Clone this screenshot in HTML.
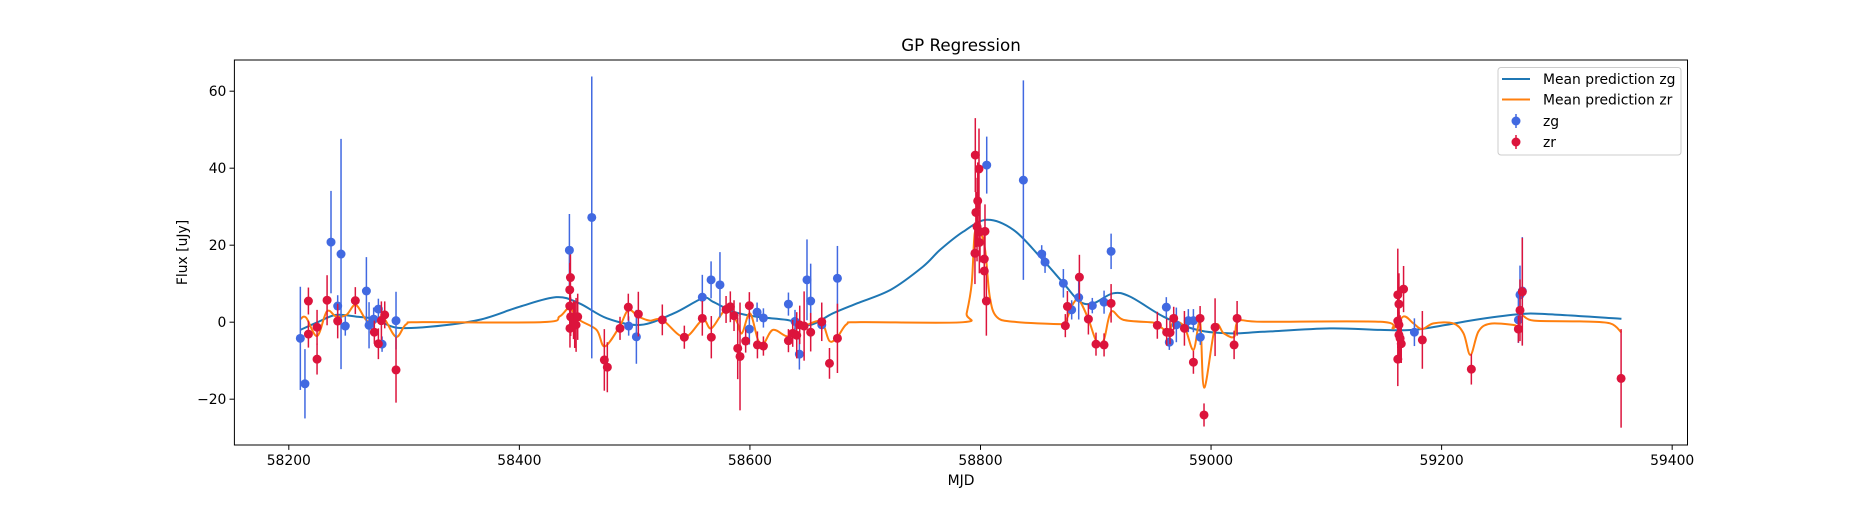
<!DOCTYPE html>
<html><head><meta charset="utf-8"><style>
body{margin:0;background:#fff;}
svg text{font-family:"DejaVu Sans","Liberation Sans",sans-serif;fill:#000;}
</style></head><body>
<svg id="chart" width="1875" height="500" xmlns="http://www.w3.org/2000/svg">
<rect width="1875" height="500" fill="#fff"/>
<text x="961" y="51" font-size="16.7" text-anchor="middle">GP Regression</text>
<g id="plot"></g>
<g id="xaxis"></g>
<g id="yaxis"></g>
<text x="961" y="485" font-size="13.9" text-anchor="middle">MJD</text>
<text transform="translate(187,252.5) rotate(-90)" font-size="13.9" text-anchor="middle">Flux [uJy]</text>
<rect x="234.4" y="60" width="1453.1" height="385" fill="none" stroke="#000" stroke-width="1"/>
<g>
<rect x="1498" y="67.5" width="183" height="87.5" rx="3" fill="#fff" fill-opacity="0.8" stroke="#ccc"/>
<line x1="1502" y1="79" x2="1530" y2="79" stroke="#1f77b4" stroke-width="2"/>
<text x="1543" y="84" font-size="13.9">Mean prediction zg</text>
<line x1="1502" y1="99.5" x2="1530" y2="99.5" stroke="#ff7f0e" stroke-width="2"/>
<text x="1543" y="104.5" font-size="13.9">Mean prediction zr</text>
<line x1="1516" y1="114" x2="1516" y2="128" stroke="#4169e1" stroke-width="1.5"/>
<circle cx="1516" cy="121" r="4.5" fill="#4169e1"/>
<text x="1543" y="126" font-size="13.9">zg</text>
<line x1="1516" y1="135" x2="1516" y2="149" stroke="#dc143c" stroke-width="1.5"/>
<circle cx="1516" cy="142" r="4.5" fill="#dc143c"/>
<text x="1543" y="147" font-size="13.9">zr</text>
</g>
</svg>
<script>
const xTicks=[58200,58400,58600,58800,59000,59200,59400];
const yTicks=[-20,0,20,40,60];
const zgMjd=[58210,58214,58236.6,58242.4,58245.3,58249,58267.3,58269.6,58273.6,58277.7,58280.9,58293,58443.4,58462.8,58494.8,58501.5,58558.7,58566.3,58574,58599.5,58606.2,58611.7,58633.4,58639.1,58642.9,58649.5,58652.7,58662.3,58675.9,58805.4,58837.2,58853.1,58856,58871.9,58879.1,58885.2,58897,58907.2,58913.3,58961.2,58963.8,58969.9,58980.3,58984.7,58990.7,59176.4,59266.6,59268,59270];
const zgFlux=[-4.2,-16,20.8,4.2,17.7,-1,8.1,-0.8,0.8,3.4,-5.7,0.4,18.7,27.2,-1,-3.8,6.5,11,9.7,-1.8,2.6,1.1,4.7,0.2,-8.3,11,5.5,-0.7,11.4,40.8,36.9,17.7,15.6,10.1,3.2,6.4,4.3,5.2,18.4,3.9,-5.2,-0.7,0.4,0.4,-3.9,-2.6,0.6,7.1,8.1];
const zgErr=[13.4,9,13.3,2.8,29.9,2.5,8.8,6,3,2.7,2,7.5,9.4,36.6,2.5,7,5.8,4.8,8.5,4,2.5,2.5,3,3,4,10.5,9.7,2.5,8.4,7.4,25.9,2.3,2.8,3.7,2.5,5.7,2,3,4.6,2.6,2,4.5,3,3,2,3.6,6,7.6,14];
const zrMjd=[58217,58217,58224.5,58224.5,58233.2,58242.4,58257.7,58274.2,58277.7,58280.3,58283.2,58293,58444.3,58443.7,58443.7,58444.5,58443.9,58447,58449.2,58450.6,58448,58473.7,58476.3,58487.3,58494.5,58503.2,58524,58543.1,58558.7,58566.5,58579.3,58583,58586.2,58589.4,58591.4,58596.3,58599.5,58606.5,58611.7,58633.4,58637.1,58640.6,58643.2,58647,58652.7,58662.3,58669,58675.9,58795.5,58798.7,58797.6,58796,58797,58799.6,58803.9,58799,58795.2,58803.3,58803.3,58805.1,58873.6,58875.4,58885.8,58893.6,58900.2,58907.2,58913.3,58953.4,58961.5,58964.4,58967.6,58976.9,58984.7,58990.5,58993.9,59003.5,59020,59022.6,59162,59167,59163,59162,59163,59163,59164,59165,59162,59183.3,59225.8,59266.6,59268,59270,59355.7];
const zrFlux=[5.5,-3.1,-1.3,-9.6,5.7,0.3,5.6,-2.6,-5.6,0.4,1.9,-12.4,11.6,8.4,4.2,1.4,-1.6,0.6,-0.7,1.4,-0.7,-9.8,-11.7,-1.6,3.9,2.1,0.6,-3.9,1,-3.9,3.3,4,1.7,-6.8,-8.9,-4.9,4.3,-5.9,-6.2,-4.8,-2.9,-3.4,-0.7,-1,-2.6,0.1,-10.7,-4.2,43.4,39.8,31.5,28.5,24.8,23.5,23.6,20.7,17.9,16.4,13.3,5.5,-0.9,4.1,11.7,0.8,-5.7,-5.9,4.9,-0.8,-2.6,-2.7,1,-1.6,-10.4,1,-24.1,-1.3,-5.9,1,7.1,8.6,4.7,0.3,-0.7,-3.3,-4.2,-5.6,-9.6,-4.6,-12.2,-1.8,3.1,7.9,-14.6];
const zrErr=[3.5,3.5,4.5,4,6.5,4.5,3.5,3,4,5,3.5,8.5,6,7,6,5,5,5,7,6,6,8,6.5,3,3.5,5.8,4,3,4.5,5.5,3.5,4,4,8,14,3,3.5,3.5,2.5,3,3.5,6,5,9,5,5,4,9,9.6,10.5,10,9,9,8,7,8,8,8,7,9,3,4,5.8,4,3,3,5,3.5,3.5,3,3,4.5,3,3.2,3,7.5,3.7,4.5,12,6,8,7,7,6,6,5,7,7.5,4,3.5,8,14,12.8];
const zgCurveMjd=[58210,58225,58241,58260,58275,58293,58322,58365,58400,58432,58452,58476,58505,58534,58559,58568,58586,58606,58632,58652,58672,58693,58722,58750,58765,58785,58805.4,58828.5,58851.6,58872,58886,58898,58915,58930,58959,58988,59017,59045,59103,59147,59175.5,59204,59233,59268,59291,59356];
const zgCurveVal=[-2,0,1.9,1.4,0.8,-1.4,-1.2,0.6,4,6.5,4.9,1,-0.7,2.3,6.2,5.3,2.7,1.4,0.6,-0.7,2.3,4.9,8.4,14.4,18.8,23.5,26.6,24,17,10.1,5.4,4.9,7.5,6.6,1.4,-2,-2.9,-2.5,-1.6,-2,-2,-0.7,0.8,2.1,2.1,0.9];
const zrCurveMjd=[58210,58215,58224.5,58233,58241,58250,58258,58267,58274,58281.5,58293,58302,58316,58420,58435,58443.4,58452,58467,58474,58487,58494.5,58503,58513,58524,58543,58559,58566.5,58579,58588.5,58593,58600,58607,58612,58620,58633,58641,58649,58662,58669,58676,58684,58696,58785,58788,58792.4,58795,58799,58804,58808,58814,58829,58869,58873.6,58880.6,58885.8,58893.6,58900.8,58907,58913.3,58924,58950,58953.4,58963,58967.6,58976.9,58984.7,58990.5,58994,59003.5,59011,59020,59024,59045,59147,59158,59167,59175.5,59183,59193,59210,59219,59225,59232,59242,59262,59266.6,59270,59280,59320,59346,59356];
const zrCurveVal=[0.8,1.2,-3.6,2.8,1.5,1.9,4.5,0.6,-0.3,1.4,-3.8,-0.5,0,0,1.5,3.6,0.6,-2,-6.3,-1.1,3.2,1.5,0.4,0.6,-3.9,0.6,-1.6,3.2,0.2,-2.9,2.3,-4.6,-5.5,-2,-3.7,-1.1,-0.7,0.1,-4.9,-3.8,-0.5,0,0,2.3,10.1,23.1,24,18.8,6.7,1.4,0.1,-0.5,0.1,4.9,5.6,0.8,-5.1,-4.6,2.7,0.6,-0.1,-0.5,-2.5,0.1,-1.2,-7.2,0.1,-17,-1.3,-2.9,-3.8,0.3,0.1,0.1,-1.6,1.5,-0.3,-1.8,-0.3,-0.3,-2.9,-8.5,-2.4,-0.4,-0.7,-1.1,1.6,0.4,0.2,-0.3,-2.7];

const X0=234.4,X1=1687.5,Y0=60,Y1=445;
const xMin=58152.8,xMax=59413.3,yMin=-31.9,yMax=68.1;
function sx(v){return X0+(v-xMin)/(xMax-xMin)*(X1-X0);}
function sy(v){return Y1-(v-yMin)/(yMax-yMin)*(Y1-Y0);}
const NS='http://www.w3.org/2000/svg';
function mk(tag,parent,attrs){const e=document.createElementNS(NS,tag);for(const k in attrs)e.setAttribute(k,attrs[k]);parent.appendChild(e);return e;}
const plot=document.getElementById('plot'),xa=document.getElementById('xaxis'),ya=document.getElementById('yaxis');
xTicks.forEach(t=>{const x=sx(t);
 const l=mk('line',xa,{x1:x,x2:x,y1:Y1,y2:Y1+4.9,stroke:'#000','stroke-width':1});
 
 
 const tx=mk('text',xa,{x:x,y:Y1+20,'font-size':13.9,'text-anchor':'middle'});tx.textContent=t;
 
 });
yTicks.forEach(t=>{const y=sy(t);
 const l=mk('line',ya,{x1:X0-4.9,x2:X0,y1:y,y2:y,stroke:'#000','stroke-width':1});
 
 
 const tx=mk('text',ya,{x:X0-8,y:y+5,'font-size':13.9,'text-anchor':'end'});tx.textContent=(t<0?'\u2212'+(-t):t);
 
 });
function curve(xs,ys){const p=xs.map((x,i)=>[sx(x),sy(ys[i])]);let d='M'+p[0][0]+','+p[0][1];
 for(let i=0;i<p.length-1;i++){const a=p[Math.max(0,i-1)],b=p[i],c=p[i+1],e=p[Math.min(p.length-1,i+2)];
  const c1=[b[0]+(c[0]-a[0])/6,b[1]+(c[1]-a[1])/6],c2=[c[0]-(e[0]-b[0])/6,c[1]-(e[1]-b[1])/6];
  d+=' C'+c1[0]+','+c1[1]+' '+c2[0]+','+c2[1]+' '+c[0]+','+c[1];}
 return d;}
const lg=mk('path',plot,{d:curve(zgCurveMjd,zgCurveVal),fill:'none',stroke:'#1f77b4','stroke-width':2});


const lr=mk('path',plot,{d:curve(zrCurveMjd,zrCurveVal),fill:'none',stroke:'#ff7f0e','stroke-width':2});


function pts(xs,ys,es,col,name){xs.forEach((x,i)=>{const g=mk('g',plot,{});
 
 
 mk('line',g,{x1:sx(x),x2:sx(x),y1:sy(ys[i]-es[i]),y2:sy(ys[i]+es[i]),stroke:col,'stroke-width':1.5});
 mk('circle',g,{cx:sx(x),cy:sy(ys[i]),r:4.5,fill:col});});}
pts(zgMjd,zgFlux,zgErr,'#4169e1','zg-point');
pts(zrMjd,zrFlux,zrErr,'#dc143c','zr-point');
</script>
</body></html>
